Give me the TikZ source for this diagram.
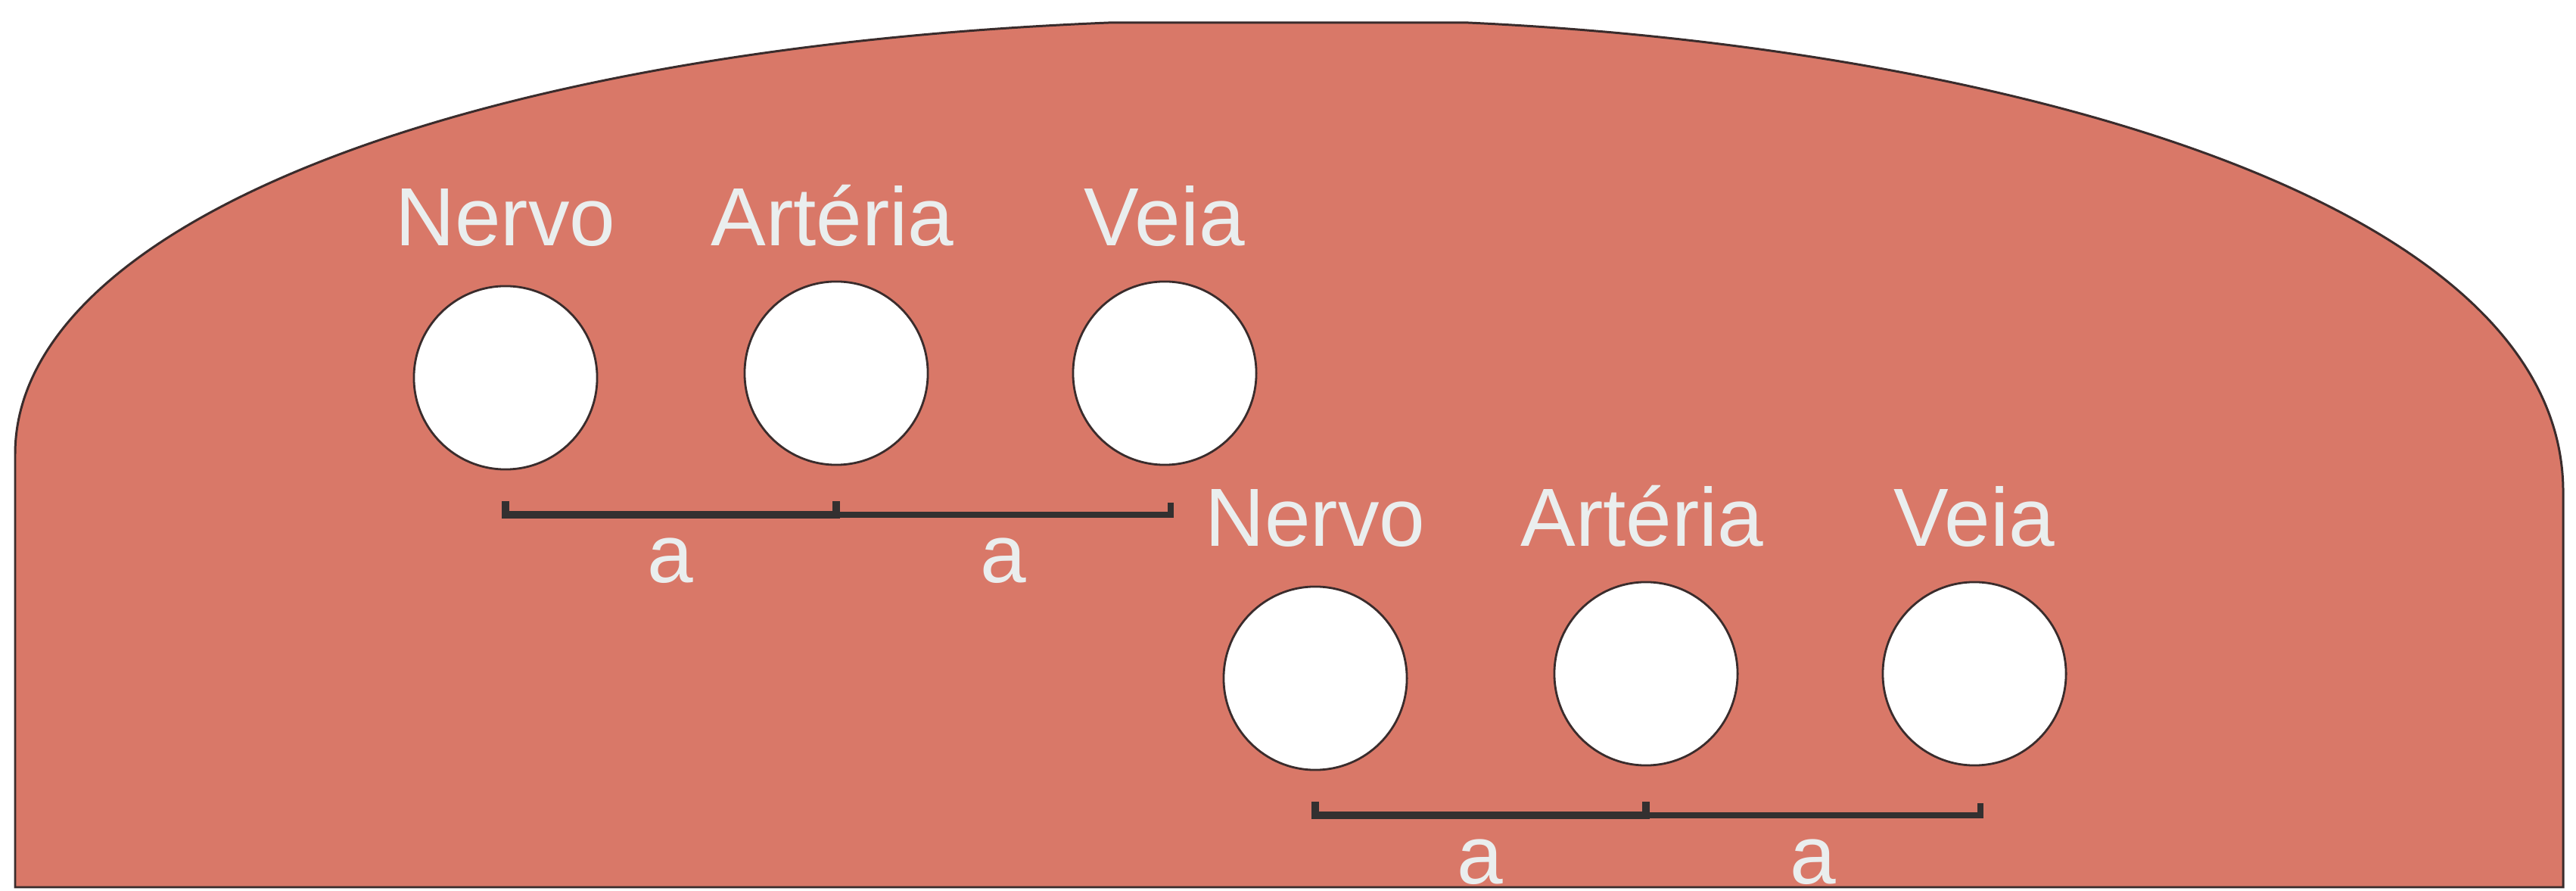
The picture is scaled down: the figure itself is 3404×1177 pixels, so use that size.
\documentclass[tikz,border=0pt]{standalone}
\usepackage{fontspec}
\setmainfont{Liberation Sans}
\definecolor{muscle}{HTML}{D97868}
\definecolor{edgecol}{HTML}{3A2C2C}
\definecolor{lbl}{HTML}{EAEEEE}
\definecolor{barcol}{HTML}{333030}
\begin{document}
\begin{tikzpicture}[x=0.01cm,y=-0.01cm,
  vessel/.style={circle, draw=edgecol, fill=white, line width=0.8pt, minimum size=2.42cm, inner sep=0pt},
  lab/.style={anchor=base, text=lbl, font=\fontsize{31}{37}\selectfont, inner sep=0pt},
  barthick/.style={draw=barcol, line width=2.85pt},
  barthin/.style={draw=barcol, line width=2.1pt}]
\useasboundingbox (0,0) rectangle (3404,1177);
\fill[white] (0,0) rectangle (3404,1177);
\draw[fill=muscle, draw=edgecol, line width=0.85pt]
  (20,1172) -- (20,600) .. controls (20,300) and (600,65) .. (1465,30)
  -- (1940,30) .. controls (2600,60) and (3387,250) .. (3387,650)
  -- (3387,1172) -- cycle;
\foreach \g/\dx/\dy in {1/0/0,2/1070/397}{
  \begin{scope}[shift={(\dx,\dy)}]
    \node[vessel] (nerv\g) at (668,499) {};
    \node[vessel] (art\g) at (1105,493) {};
    \node[vessel] (vein\g) at (1539,493) {};
    \node[lab] (lnerv\g) at (668,325) {Nervo};
    \node[lab] (lart\g) at (1100,325) {Artéria};
    \node[lab] (lvein\g) at (1539,325) {Veia};
    \coordinate (tl\g) at (668,662);
    \coordinate (bl\g) at (668,680);
    \coordinate (tm\g) at (1105,662);
    \coordinate (bm\g) at (1105,680);
    \coordinate (tr\g) at (1547,664);
    \coordinate (br\g) at (1547,680);
    \node[lab] (da\g) at (886,770) {a};
    \node[lab] (db\g) at (1326,770) {a};
  \end{scope}
  \draw[barthick] (tl\g) -- (bl\g) -- (bm\g) -- (tm\g);
  \draw[barthin] (bm\g) -- (br\g) -- (tr\g);
}
\end{tikzpicture}
\end{document}
